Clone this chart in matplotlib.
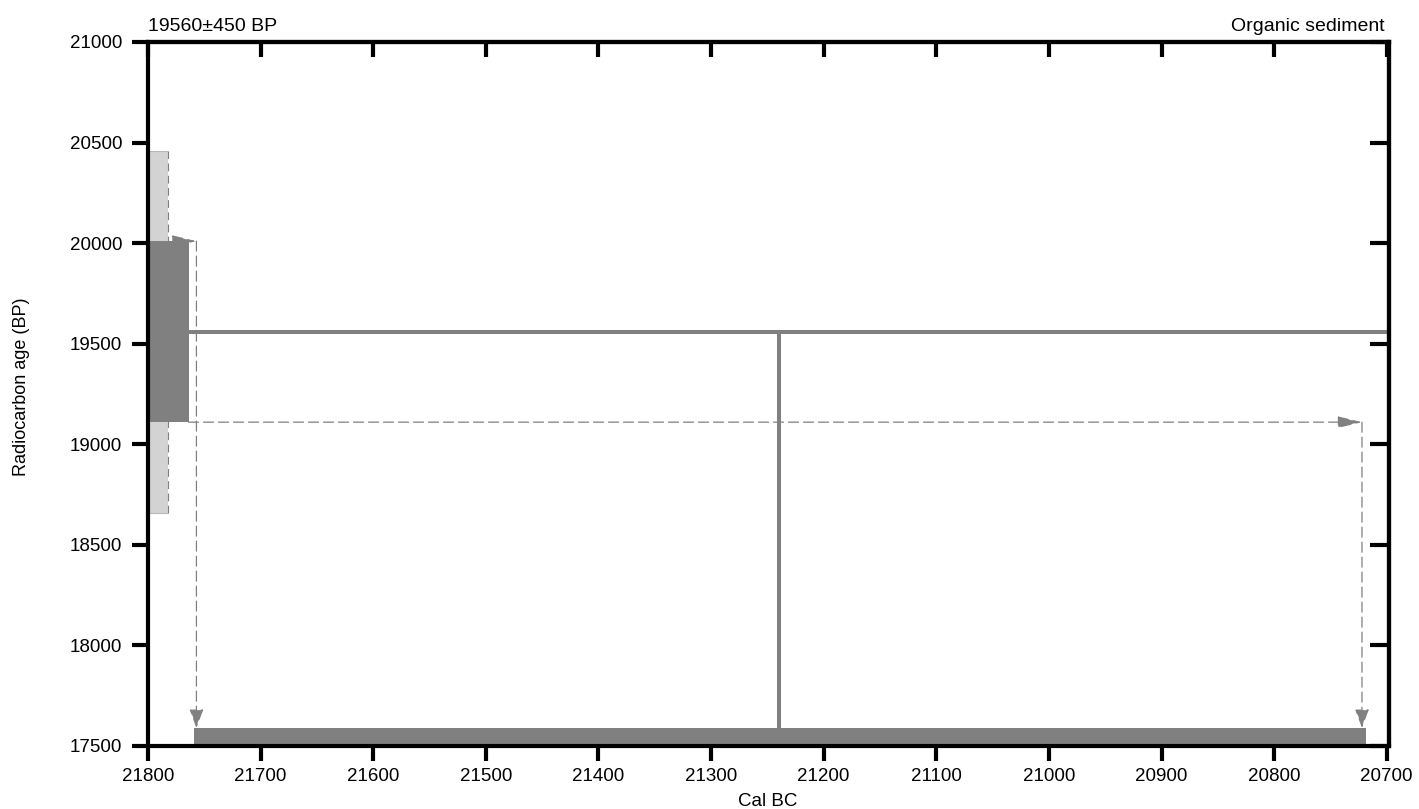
import matplotlib
matplotlib.use("Agg")
import matplotlib.pyplot as plt

plt.rcParams['font.family'] = ['Liberation Sans', 'DejaVu Sans']

# Measured date
age_bp = 19560
sigma = 450
sample = "Organic sediment"

# Axis ranges and ticks
x_ticks = [21800, 21700, 21600, 21500, 21400, 21300, 21200, 21100, 21000, 20900, 20800, 20700]
y_ticks = [17500, 18000, 18500, 19000, 19500, 20000, 20500, 21000]
x_range = (21800, 20698)
y_range = (17500, 21000)

# Radiocarbon age bands drawn at the left edge (1 sigma and 2 sigma)
band_1s = (age_bp - sigma, age_bp + sigma)
band_2s = (age_bp - 2 * sigma, age_bp + 2 * sigma)
band_1s_right = 21764
band_2s_right = 21782

# Calibrated range (Cal BC) and its point estimate
cal_from = 21757
cal_to = 20722
cal_bar = (21759, 20718)
cal_bar_top = 17590
cal_point = 21240

GRAY = '#808080'
LIGHT = '#d3d3d3'
DASH = '#7f7f7f'

fig = plt.figure(figsize=(14.19, 8.09), dpi=100)
ax = fig.add_axes([148 / 1419, 63 / 809, (1389 - 148) / 1419, (746 - 42) / 809])

ax.set_xlim(*x_range)
ax.set_ylim(*y_range)

# 2 sigma band (light) and 1 sigma band (dark)
ax.fill_betweenx(band_2s, x_range[0], band_2s_right, color=LIGHT, lw=0, zorder=1)
ax.plot([band_2s_right, band_2s_right], band_2s, color=DASH, lw=0.8,
        dashes=(7, 4), zorder=1.5)
ax.plot([x_range[0], band_2s_right], [band_2s[1]] * 2, color='#b8b8b8', lw=0.8, zorder=1.5)
ax.plot([x_range[0], band_2s_right], [band_2s[0]] * 2, color='#b8b8b8', lw=0.8, zorder=1.5)
ax.fill_betweenx(band_1s, x_range[0], band_1s_right, color=GRAY, lw=0, zorder=2)

# Calibrated range bar along the bottom
ax.fill_between(cal_bar, y_range[0], cal_bar_top, color=GRAY, lw=0, zorder=2)

# Radiocarbon age line and calibrated point estimate
ax.plot([band_1s_right, x_range[1]], [age_bp, age_bp], color=GRAY, lw=2.9,
        solid_capstyle='butt', zorder=3)
ax.plot([cal_point, cal_point], [cal_bar_top, age_bp], color=GRAY, lw=2.9,
        solid_capstyle='butt', zorder=3)


def dashed_arrow(x0, y0, x1, y1, hl, hw):
    ax.annotate('', xy=(x1, y1), xytext=(x0, y0),
                arrowprops=dict(arrowstyle=f'-|>,head_length={hl},head_width={hw}',
                                mutation_scale=1, color=DASH, fc=GRAY, ec=GRAY,
                                lw=0.9, linestyle=(0, (8, 4)),
                                shrinkA=0, shrinkB=0),
                zorder=4)


# Projection of the 1 sigma limits onto the calendar axis
dashed_arrow(band_1s_right, band_1s[1], cal_from, band_1s[1], 15, 3.6)
dashed_arrow(cal_from, band_1s[1], cal_from, cal_bar_top, 11.5, 4.3)
dashed_arrow(band_1s_right, band_1s[0], cal_to, band_1s[0], 15, 3.6)
dashed_arrow(cal_to, band_1s[0], cal_to, cal_bar_top, 11.5, 4.3)

# Axes styling
for s in ax.spines.values():
    s.set_linewidth(3)
    s.set_color('black')
    s.set_zorder(5)

ax.set_xticks(x_ticks)
ax.set_yticks(y_ticks)
ax.set_xticklabels([str(v) for v in x_ticks])
ax.set_yticklabels([str(v) for v in y_ticks])
ax.tick_params(axis='x', direction='out', length=10.5, width=3, pad=5,
               labelsize=13.5, colors='black')
ax.tick_params(axis='y', direction='out', length=11.5, width=3, pad=7,
               labelsize=13.5, colors='black')

top = ax.secondary_xaxis('top')
top.set_xticks(x_ticks)
top.tick_params(direction='in', length=10.5, width=3, labeltop=False)
top.spines['top'].set_linewidth(3)

right = ax.secondary_yaxis('right')
right.set_yticks(y_ticks)
right.tick_params(direction='in', length=13.5, width=3, labelright=False)
right.spines['right'].set_linewidth(3)

# Labels
ax.set_ylabel('Radiocarbon age (BP)', fontsize=13)
ax.yaxis.set_label_coords((22 - 148) / 1241, 0.511)
ax.yaxis.label.set_va('center')
fig.text(768 / 1419, 0.004, 'Cal BC', ha='center', va='baseline', fontsize=13.5)

ax.text(0.0, 1.0156, f'{age_bp}\u00b1{sigma} BP', transform=ax.transAxes,
        ha='left', va='baseline', fontsize=14)
ax.text(0.9968, 1.0156, sample, transform=ax.transAxes,
        ha='right', va='baseline', fontsize=14)

fig.savefig('out.png', dpi=100)
